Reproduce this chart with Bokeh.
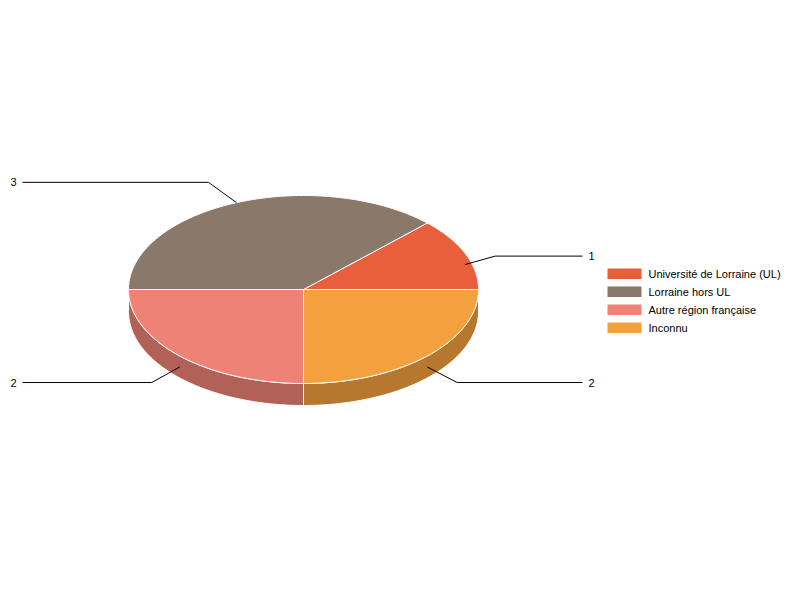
import numpy as np
from bokeh.plotting import figure
from bokeh.models import Range1d
from bokeh.embed import file_html
from bokeh.resources import INLINE
from bokeh.core.properties import value

# ---- data ----
categories = ["Université de Lorraine (UL)", "Lorraine hors UL",
              "Autre région française", "Inconnu"]
counts = [1, 3, 2, 2]
colors = ["#E95E3B", "#8A786B", "#EE8276", "#F3A03F"]

# ---- layout constants ----
CX, CY, RX, RY, DEPTH = 303, 289, 175, 94, 22
FONT = value("Liberation Sans")

def darker(hexcol, f=0.75):
    h = hexcol.lstrip("#")
    r, g, b = (int(h[i:i + 2], 16) for i in (0, 2, 4))
    return "#%02X%02X%02X" % (int(r * f), int(g * f), int(b * f))

def ell(t):
    return CX + RX * np.cos(t), CY - RY * np.sin(t)

p = figure(width=784, height=584, x_range=Range1d(0, 784), y_range=Range1d(584, 0),
           output_backend="svg", toolbar_location=None, min_border=0)
p.axis.visible = False
p.grid.visible = False
p.outline_line_color = None
p.background_fill_color = "white"
p.border_fill_color = "white"

total = sum(counts)
bounds = np.concatenate([[0.0], np.cumsum(counts)]) / total * 2 * np.pi

# sides (front half only)
sx, sy, sc = [], [], []
for i, c in enumerate(colors):
    lo, hi = max(bounds[i], np.pi), min(bounds[i + 1], 2 * np.pi)
    if hi > lo:
        t = np.linspace(lo, hi, 120)
        x, y = ell(t)
        sx.append(np.concatenate([x, x[::-1]]))
        sy.append(np.concatenate([y, y[::-1] + DEPTH]))
        sc.append(darker(c))
p.patches(sx, sy, fill_color=sc, line_color="white", line_width=1)

# top faces
tx, ty = [], []
for i in range(len(counts)):
    t = np.linspace(bounds[i], bounds[i + 1], 160)
    x, y = ell(t)
    tx.append(np.concatenate([[CX], x]))
    ty.append(np.concatenate([[CY], y]))
p.patches(tx, ty, fill_color=colors, line_color="white", line_width=1)

# labels with leader lines
for i, v in enumerate(counts):
    mid = (bounds[i] + bounds[i + 1]) / 2
    x0, y0 = ell(mid)
    if np.sin(mid) < 0.5:
        y0 += DEPTH / 2
    ly = y0 - 22 * np.sin(mid)
    right = np.cos(mid) > 0
    bx = x0 + (30 if right else -28)
    ex = 582 if right else 22
    p.line([x0, bx, ex], [y0, ly, ly], line_color="black", line_width=1)
    p.text([588 if right else 16], [ly], text=[str(v)],
           text_align="left" if right else "right", text_baseline="middle",
           text_font=FONT, text_font_size="11px", text_color="black")

# legend
rows = [273 + 18 * k for k in range(len(categories))]
p.quad(left=607, right=641, top=[r - 5 for r in rows], bottom=[r + 5.5 for r in rows],
       fill_color=colors, line_color=None)
p.text([648] * len(rows), rows, text=categories, text_align="left",
       text_baseline="middle", text_font=FONT, text_font_size="11px",
       text_color="black")

open("out.html", "w").write(file_html(p, INLINE))
